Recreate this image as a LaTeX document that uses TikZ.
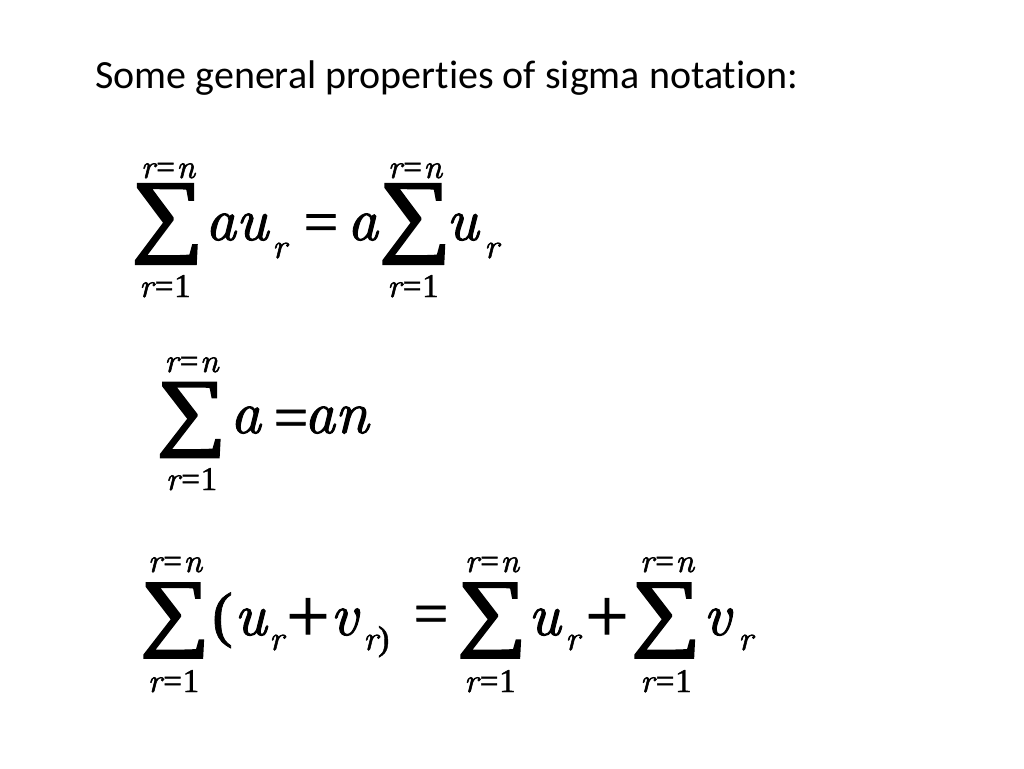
\documentclass[tikz,border=0pt]{standalone}
\usepackage{fontspec}
\newfontfamily\titlefont[RawFeature=-liga]{Carlito}
\newfontfamily\tnr[FakeBold=1.2]{Liberation Serif}
\newfontfamily\sigfont[FakeBold=2.5]{Liberation Serif}
\newfontfamily\lmi[FakeBold=1.6]{lmroman10-italic.otf}
\newcommand{\SigA}{\resizebox*{54pt}{60pt}{\sigfont ∑}}
\newcommand{\SigB}{\resizebox*{52pt}{56pt}{\sigfont ∑}}
\newcommand{\LimTop}{{\lmi r}\kern1pt{\tnr =}\kern1pt{\lmi n}}
\newcommand{\LimBot}{{\lmi r}\kern1pt{\tnr =}\kern0.5pt{\tnr 1}}
\begin{document}
\begin{tikzpicture}[x=0.75pt,y=-0.75pt]
\tikzset{
  ttl/.style={font=\titlefont\fontsize{30}{30}\selectfont, inner sep=0, anchor=base west},
  big/.style={font=\lmi\fontsize{45}{45}\selectfont, inner sep=0, anchor=base west},
  op/.style={font=\tnr\fontsize{46}{46}\selectfont, inner sep=0, anchor=center},
  paren/.style={font=\tnr\fontsize{46}{46}\selectfont, inner sep=0, anchor=base west},
  sub/.style={font=\lmi\fontsize{26}{26}\selectfont, inner sep=0, anchor=base west},
  lim/.style={font=\fontsize{25}{25}\selectfont, inner sep=0, anchor=base},
  sig/.style={inner sep=0, anchor=center},
}
\fill[white] (0,0) rectangle (1024,768);
\useasboundingbox (0,0) rectangle (1024,768);

\node[ttl] (title) at (95,88) {Some general properties of sigma notation:};

% equation 1
\node[sig] (s1) at (167.5,224) {\SigA};
\node[lim] (s1t) at (168,178) {\LimTop};
\node[lim] (s1b) at (165,297) {\LimBot};
\node[big] (e1au) at (205,240) {au};
\node[sub] (e1r) at (272,258) {r};
\node[op] (e1eq) at (321,228.5) {=};
\node[big] (e1a) at (347,240) {a};
\node[sig] (s2) at (415,224) {\SigA};
\node[lim] (s2t) at (415,178) {\LimTop};
\node[lim] (s2b) at (413,297) {\LimBot};
\node[big] (e1u) at (446,240) {u};
\node[sub] (e1r2) at (484,258) {r};

% equation 2
\node[sig] (s3) at (191.5,420) {\SigB};
\node[lim] (s3t) at (191.5,372) {\LimTop};
\node[lim] (s3b) at (191.5,490) {\LimBot};
\node[big] (e2a) at (230,433) {a};
\node[op] (e2eq) at (291,424) {=};
\node[big] (e2an) at (304,433) {an};

% equation 3
\node[sig] (s4) at (175,620.5) {\SigB};
\node[lim] (s4t) at (175,572) {\LimTop};
\node[lim] (s4b) at (173.5,692) {\LimBot};
\node[paren] (e3p) at (212,635) {(};
\node[big] (e3u) at (234,635) {u};
\node[sub] (e3r) at (269,650) {r};
\node[op, scale=1.25] (e3plus) at (308,620) {+};
\node[big] (e3v) at (330,635) {v};
\node[sub] (e3r2) at (363,650) {r{\tnr )}};
\node[op] (e3eq) at (431,620) {=};
\node[sig] (s5) at (492,620.5) {\SigB};
\node[lim] (s5t) at (492,572) {\LimTop};
\node[lim] (s5b) at (490,692) {\LimBot};
\node[big] (e3u2) at (528,635) {u};
\node[sub] (e3r3) at (565,650) {r};
\node[op, scale=1.25] (e3plus2) at (607,620) {+};
\node[sig] (s6) at (666,620.5) {\SigB};
\node[lim] (s6t) at (667,572) {\LimTop};
\node[lim] (s6b) at (666,692) {\LimBot};
\node[big] (e3v2) at (703,635) {v};
\node[sub] (e3r4) at (738,650) {r};
\end{tikzpicture}
\end{document}
